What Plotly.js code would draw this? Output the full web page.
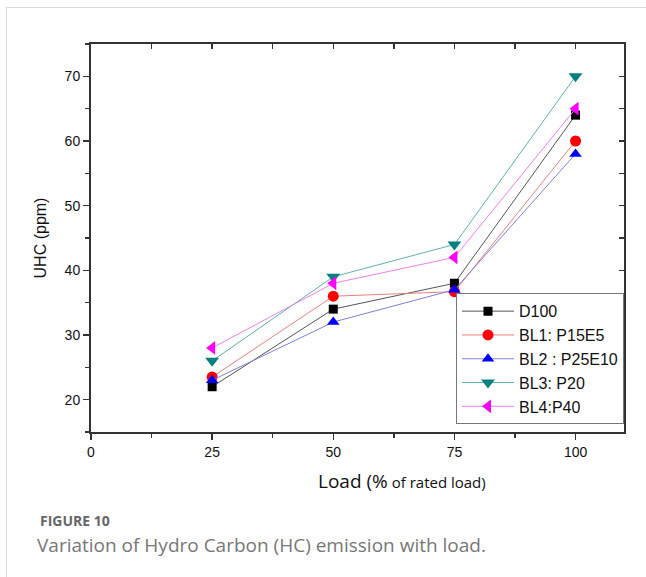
<!DOCTYPE html>
<html>
<head>
<meta charset="utf-8">
<script src="https://cdn.plot.ly/plotly-3.0.1.min.js"></script>
<style>
html,body{margin:0;padding:0;background:#fff;}
#frame{position:absolute;left:6px;top:7px;width:640px;height:570px;border-left:1px solid #dcdcdc;border-top:1px solid #dcdcdc;}
#chart{position:absolute;left:0;top:0;width:646px;height:577px;}
</style>
</head>
<body>
<div id="frame"></div>
<div id="chart"></div>
<script>
const loads = [25, 50, 75, 100];
const seriesNames = ["D100", "BL1: P15E5", "BL2 : P25E10", "BL3: P20", "BL4:P40"];
const d100 = [22, 34, 38, 64];
const bl1 = [23.5, 36, 36.7, 60];
const bl2 = [23, 32, 37, 58];
const bl3 = [26, 39, 44, 70];
const bl4 = [28, 38, 42, 65];
const xTicks = [0, 25, 50, 75, 100];
const yTicks = [20, 30, 40, 50, 60, 70];

const values = [d100, bl1, bl2, bl3, bl4];
const markerColors = ["#000000", "#ff0000", "#0000ff", "#008080", "#ff00ff"];
const lineColors = ["#555555", "#e88080", "#8080d8", "#60b0b0", "#ee80ee"];
const symbols = ["square", "circle", "triangle-up", "triangle-down", "triangle-left"];
const sizes = [9, 11, 11, 12, 12];

const traces = values.map((v, i) => ({
  x: loads, y: v, name: seriesNames[i], type: "scatter", mode: "lines+markers",
  line: {color: lineColors[i], width: 1},
  marker: {symbol: symbols[i], color: markerColors[i], size: sizes[i], line: {width: 0}}
}));

const sans = "'Liberation Sans', Arial, sans-serif";
const axisFont = {family: sans, size: 14, color: "#111"};

const layout = {
  width: 646, height: 577,
  margin: {l: 91, r: 22, t: 44, b: 145},
  paper_bgcolor: "rgba(0,0,0,0)", plot_bgcolor: "rgba(0,0,0,0)",
  showlegend: true,
  legend: {
    x: 1, xanchor: "right", y: 0.02, yanchor: "bottom",
    bgcolor: "#ffffff", bordercolor: "#777", borderwidth: 1,
    font: {family: sans, size: 16, color: "#111"},
    tracegroupgap: 0, itemwidth: 52
  },
  xaxis: {
    range: [0, 110], tickvals: xTicks, ticktext: xTicks.map(String),
    ticks: "outside", ticklen: 6, tickwidth: 1.5, tickcolor: "#333",
    minor: {dtick: 12.5, tick0: 0, ticks: "outside", ticklen: 4, tickcolor: "#333", tickwidth: 1.5},
    showline: true, linecolor: "#333", linewidth: 2, showgrid: false, zeroline: false,
    tickfont: axisFont, fixedrange: true
  },
  xaxis2: {
    overlaying: "x", side: "top", range: [0, 110], tickvals: [0, 12.5, 25, 37.5, 50, 62.5, 75, 87.5, 100],
    ticks: "inside", ticklen: 5, tickwidth: 1.5, tickcolor: "#333", showticklabels: false,
    showline: true, linecolor: "#333", linewidth: 2, showgrid: false, zeroline: false
  },
  yaxis: {
    range: [15, 75], tickvals: yTicks,
    ticks: "outside", ticklen: 6, tickwidth: 1.5, tickcolor: "#333",
    minor: {dtick: 5, tick0: 15, ticks: "outside", ticklen: 4, tickcolor: "#333", tickwidth: 1.5},
    showline: true, linecolor: "#333", linewidth: 2, showgrid: false, zeroline: false,
    tickfont: axisFont,
    title: {text: "UHC (ppm)", font: {family: sans, size: 16, color: "#111"}, standoff: 14}
  },
  yaxis2: {
    overlaying: "y", side: "right", range: [15, 75], tickvals: [15, 20, 25, 30, 35, 40, 45, 50, 55, 60, 65, 70, 75],
    ticks: "inside", ticklen: 5, tickwidth: 1.5, tickcolor: "#333", showticklabels: false,
    showline: true, linecolor: "#333", linewidth: 2, showgrid: false, zeroline: false
  },
  annotations: [
    {xref: "paper", yref: "paper", x: (402 - 91) / 533, y: -(481 - 432) / 388, xanchor: "center", yanchor: "middle",
     showarrow: false, text: 'Load (<span style="font-size:19px">%</span><span style="font-size:15px"> of rated load)</span>',
     font: {family: "Open Sans, sans-serif", size: 19, color: "#111"}},
    {xref: "paper", yref: "paper", x: (38 - 91) / 533, y: -(520 - 432) / 388, xanchor: "left", yanchor: "middle",
     showarrow: false, text: "<b>FIGURE 10</b>",
     font: {family: "Open Sans, sans-serif", size: 14, color: "#666"}},
    {xref: "paper", yref: "paper", x: (35 - 91) / 533, y: -(545 - 432) / 388, xanchor: "left", yanchor: "middle",
     showarrow: false, text: "Variation of Hydro Carbon (HC) emission with load.",
     font: {family: "Open Sans, sans-serif", size: 19, color: "#777"}}
  ]
};

traces.push({x: [0], y: [15], xaxis: "x2", yaxis: "y2", mode: "markers", marker: {opacity: 0}, showlegend: false, hoverinfo: "skip"});

Plotly.newPlot("chart", traces, layout, {displayModeBar: false, staticPlot: true});
</script>
</body>
</html>
